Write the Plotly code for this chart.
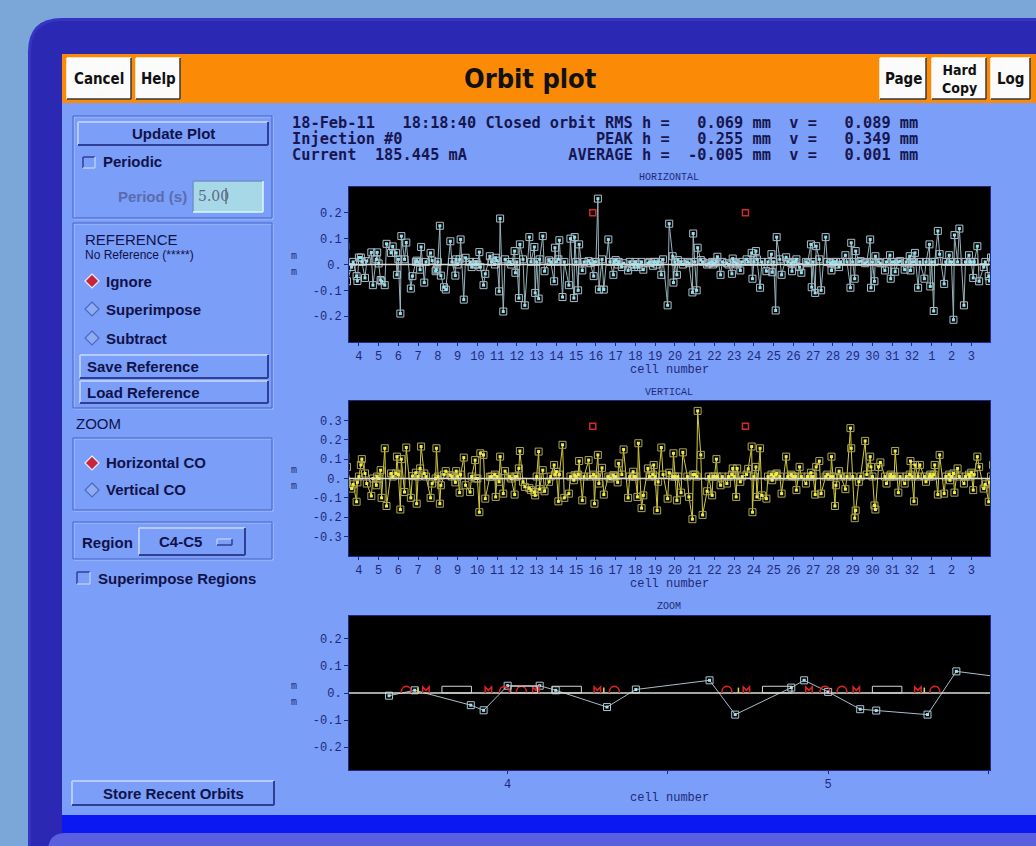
import plotly.graph_objects as go

W, H = 1036, 846

# ---------------- orbit data ----------------
# BPM positions inside one cell (fraction of a cell length)
bpm_offsets = [0.00, 0.10, 0.15, 0.31, 0.40, 0.63, 0.71, 0.885, 0.925]

# Horizontal closed orbit (mm), ring cells 1..32, one row per cell
orbit_h = [
    0.010, -0.180, 0.010, 0.130, 0.040, -0.075, 0.010, 0.036, 0.010,     # 1
    0.010, -0.214, 0.114, 0.010, 0.139, -0.158, 0.010, 0.036, 0.010,     # 2
    0.010, -0.052, 0.010, 0.071, -0.065, -0.010, 0.010, -0.045, -0.064,  # 3
    0.027, 0.027, 0.010, -0.052, 0.013, 0.047, -0.080, 0.020, 0.047,     # 4
    0.004, -0.060, -0.065, -0.080, 0.080, 0.045, 0.070, 0.045, -0.040,   # 5
    0.020, -0.190, 0.110, 0.020, 0.085, -0.093, -0.045, 0.010, 0.015,    # 6
    0.010, -0.020, 0.068, -0.070, 0.010, 0.045, 0.015, -0.026, -0.020,   # 7
    0.010, 0.150, -0.043, -0.088, -0.097, 0.090, 0.010, -0.043, 0.020,   # 8
    0.000, 0.020, 0.097, -0.136, 0.026, 0.010, -0.010, 0.000, 0.010,     # 9
    0.000, 0.048, -0.010, -0.080, -0.036, 0.032, 0.010, 0.000, 0.026,    # 10
    0.015, -0.104, 0.178, -0.182, 0.020, 0.010, 0.000, 0.052, -0.032,    # 11
    0.010, -0.130, 0.078, 0.020, -0.158, 0.106, 0.010, 0.068, -0.110,    # 12
    0.010, -0.132, 0.020, 0.110, -0.026, 0.016, 0.010, -0.065, 0.065,    # 13
    0.010, 0.020, 0.094, -0.126, 0.010, -0.080, 0.100, -0.130, 0.106,    # 14
    0.010, -0.100, 0.078, -0.023, 0.010, 0.013, 0.005, -0.045, 0.010,    # 15
    0.010, 0.255, -0.097, 0.020, -0.097, 0.097, 0.010, -0.040, 0.010,    # 16
    0.017, 0.000, 0.010, -0.010, 0.005, -0.023, 0.010, 0.000, -0.010,    # 17
    0.010, 0.000, -0.010, 0.010, -0.020, 0.005, 0.010, -0.005, 0.010,    # 18
    0.010, 0.000, 0.010, -0.040, 0.020, -0.158, 0.158, 0.032, -0.070,    # 19
    0.010, -0.040, 0.017, 0.010, 0.000, 0.010, 0.005, -0.108, 0.120,     # 20
    0.010, -0.100, 0.065, 0.017, 0.010, 0.000, 0.005, 0.010, 0.000,      # 21
    0.005, 0.010, 0.030, -0.040, 0.010, 0.005, 0.000, -0.036, 0.023,     # 22
    0.010, 0.005, 0.000, -0.023, 0.010, 0.020, 0.010, 0.045, -0.055,     # 23
    0.010, 0.052, 0.020, -0.090, 0.010, -0.026, 0.010, 0.040, -0.030,    # 24
    0.010, -0.178, 0.106, 0.020, -0.040, 0.028, 0.010, 0.005, -0.026,    # 25
    0.010, 0.010, 0.020, -0.010, -0.032, 0.010, 0.005, 0.078, -0.088,    # 26
    0.010, -0.110, 0.071, 0.020, -0.100, 0.106, 0.010, 0.005, -0.023,    # 27
    0.010, 0.000, 0.010, -0.010, 0.010, 0.036, 0.010, -0.090, 0.084,     # 28
    0.010, -0.055, 0.052, 0.010, 0.013, 0.005, 0.010, 0.097, -0.090,     # 29
    0.010, -0.065, 0.032, 0.010, 0.005, -0.023, 0.010, 0.036, -0.055,    # 30
    0.010, 0.010, -0.028, 0.010, 0.013, -0.020, 0.010, 0.032, -0.023,    # 31
    0.010, 0.010, 0.045, -0.090, 0.010, -0.055, 0.010, 0.078, -0.085,    # 32
]

# Vertical closed orbit (mm), ring cells 1..32
orbit_v = [
    0.010, 0.020, 0.070, -0.083, 0.122, -0.078, 0.010, 0.020, -0.009,    # 1
    0.010, 0.026, -0.073, 0.052, 0.010, -0.026, 0.010, 0.020, 0.010,     # 2
    0.030, -0.060, 0.020, 0.113, 0.060, -0.052, -0.030, -0.120, -0.020,  # 3
    0.010, 0.070, 0.100, 0.026, -0.026, -0.090, 0.000, -0.035, 0.010,    # 4
    0.000, 0.043, -0.100, 0.156, -0.142, 0.026, 0.010, 0.026, 0.113,     # 5
    0.020, -0.160, 0.100, -0.070, 0.160, -0.100, 0.012, 0.030, -0.130,   # 6
    0.010, 0.052, 0.165, 0.026, 0.010, -0.100, -0.026, 0.000, 0.156,     # 7
    0.010, -0.130, -0.035, 0.020, 0.038, 0.017, 0.010, -0.020, 0.038,    # 8
    0.010, -0.073, 0.020, 0.108, -0.035, -0.070, 0.010, 0.095, 0.000,    # 9
    0.000, -0.174, 0.130, 0.122, -0.104, 0.009, 0.010, 0.020, -0.095,    # 10
    0.010, -0.017, 0.113, -0.078, 0.038, 0.010, 0.000, -0.083, 0.010,    # 11
    0.010, 0.052, 0.142, -0.017, -0.043, -0.050, -0.060, -0.070, -0.087, # 12
    0.010, 0.139, -0.055, 0.043, -0.066, -0.017, 0.010, 0.070, 0.020,    # 13
    0.035, -0.118, 0.020, 0.174, -0.100, -0.078, 0.010, -0.009, 0.017,   # 14
    0.010, 0.020, 0.090, -0.113, 0.010, 0.095, 0.010, 0.020, -0.130,     # 15
    0.010, 0.122, -0.026, 0.055, -0.083, 0.010, 0.000, 0.017, 0.010,     # 16
    0.010, -0.020, 0.078, 0.020, 0.150, -0.100, 0.010, 0.035, 0.010,     # 17
    0.010, -0.095, 0.182, -0.153, -0.087, 0.052, 0.010, 0.020, 0.070,    # 18
    0.010, -0.165, -0.017, 0.160, 0.020, -0.104, 0.030, 0.010, 0.130,    # 19
    0.010, -0.113, 0.010, -0.073, 0.135, 0.010, -0.095, -0.210, 0.020,   # 20
    0.020, 0.010, 0.349, 0.122, -0.188, -0.066, 0.010, -0.087, 0.010,    # 21
    0.010, 0.100, 0.010, -0.035, 0.010, -0.026, 0.010, 0.020, 0.052,     # 22
    0.010, -0.095, 0.052, -0.017, 0.010, 0.020, 0.050, 0.165, -0.174,    # 23
    0.010, 0.060, -0.095, 0.156, -0.087, -0.104, 0.010, 0.020, -0.009,   # 24
    0.010, 0.020, 0.026, 0.010, -0.078, 0.113, 0.010, 0.020, 0.014,      # 25
    0.010, 0.010, -0.060, 0.060, 0.010, -0.026, 0.010, 0.030, 0.010,     # 26
    0.010, -0.083, 0.060, 0.090, -0.078, 0.010, 0.020, 0.010, 0.113,     # 27
    0.010, -0.142, -0.035, 0.038, 0.010, -0.055, 0.010, 0.260, 0.156,    # 28
    0.010, -0.205, -0.165, -0.017, 0.010, 0.194, 0.020, 0.113, 0.060,    # 29
    0.010, -0.139, -0.160, 0.060, 0.083, 0.010, -0.026, 0.010, 0.020,    # 30
    0.010, 0.010, 0.142, -0.073, 0.010, -0.026, 0.010, 0.020, 0.090,     # 31
    0.010, -0.118, 0.070, 0.010, 0.070, 0.010, -0.017, 0.010, 0.020,     # 32
]

# cell axis: unwrapped positions 4..35 carry ring labels 4..32, 1, 2, 3
cell_ticks = [4, 5, 6, 7, 8, 9, 10, 11, 12, 13, 14, 15, 16, 17, 18, 19, 20,
              21, 22, 23, 24, 25, 26, 27, 28, 29, 30, 31, 32, 33, 34, 35]
cell_labels = ["4", "5", "6", "7", "8", "9", "10", "11", "12", "13", "14",
               "15", "16", "17", "18", "19", "20", "21", "22", "23", "24",
               "25", "26", "27", "28", "29", "30", "31", "32", "1", "2", "3"]

# reference markers (cell position, mm)
ref_cells = [15.84, 23.57]
ref_h = [0.20, 0.20]
ref_v = [0.27, 0.27]

# lattice elements for the zoomed region (fraction of a cell)
sext_offsets = [0.684, 0.990, 0.043, 0.333]
quad_offsets = [0.745, 0.940, 0.088, 0.280]
corr_offsets = [0.720, 0.300]
dipole_spans = [(0.795, 0.887), (0.138, 0.230)]
id_spans = [(4.010, 4.093)]
zoom_cells = [3, 4, 5]

# summary numbers
date_str, time_str = "18-Feb-11", "18:18:40"
injection = 0
beam_current = 185.445
rms_h, rms_v = 0.069, 0.089
peak_h, peak_v = 0.255, 0.349
avg_h, avg_v = -0.005, 0.001

# ---------------- build orbit along the unwrapped ring ----------------
N_RING = 32
PER = len(bpm_offsets)


def unwrap(values, first=3, last=36):
    xs, ys = [], []
    for k in range(first, last + 1):
        ring = (k - 1) % N_RING
        for j, off in enumerate(bpm_offsets):
            xs.append(k + off)
            ys.append(values[ring * PER + j])
    return xs, ys


hx, hy = unwrap(orbit_h)
vx, vy = unwrap(orbit_v)
ZOOM_RANGE = [3.505, 5.505]
zx = [x for x in hx if 3.55 <= x <= 5.7]
zy = [y for x, y in zip(hx, hy) if 3.55 <= x <= 5.7]

# ---------------- styling ----------------
SANS = "Liberation Sans, Arial, sans-serif"
NARROW = "Liberation Sans Narrow, Arial Narrow, DejaVu Sans Condensed, Liberation Sans, sans-serif"
MONO = "DejaVu Sans Mono, monospace"
PMONO = "Liberation Mono, Courier New, monospace"
INK = "#10124a"
AXC = "#1c2a80"
PANEL = "#7b9ef8"
HI = "#b6caff"
LO = "#2f3f94"

shapes, notes = [], []


def X(px):
    return px / W


def Y(py):
    return 1 - py / H


def rect(x0, y0, x1, y1, fill=None, line=None, lw=1):
    shapes.append(dict(type="rect", xref="paper", yref="paper",
                       x0=X(x0), x1=X(x1), y0=Y(y1), y1=Y(y0),
                       fillcolor=fill or "rgba(0,0,0,0)",
                       line=dict(color=line or "rgba(0,0,0,0)", width=lw if line else 0),
                       layer="below"))


def seg(x0, y0, x1, y1, color, lw=1):
    shapes.append(dict(type="line", xref="paper", yref="paper",
                       x0=X(x0), y0=Y(y0), x1=X(x1), y1=Y(y1),
                       line=dict(color=color, width=lw), layer="below"))


def bevel(x0, y0, x1, y1, fill, hi=HI, lo=LO, lw=2):
    rect(x0, y0, x1, y1, fill)
    seg(x0, y0, x1, y0, hi, lw)
    seg(x0, y0, x0, y1, hi, lw)
    seg(x0, y1, x1, y1, lo, lw)
    seg(x1, y0, x1, y1, lo, lw)


def frame(x0, y0, x1, y1):
    rect(x0 + 1, y0 + 1, x1 + 1, y1 + 1, None, "#a9c0ff", 1)
    rect(x0, y0, x1, y1, None, "#4763c8", 1)


def rounded_tl(x0, y0, x1, y1, r, fill):
    rx, ry = r / W, r / H
    a, b, c, d = X(x0), Y(y0), X(x1), Y(y1)
    p = f"M {a},{b - ry} Q {a},{b} {a + rx},{b} L {c},{b} L {c},{d} L {a},{d} Z"
    shapes.append(dict(type="path", xref="paper", yref="paper", path=p,
                       fillcolor=fill, line=dict(width=0), layer="below"))


def diamond(cx, cy, r, selected):
    p = (f"M {X(cx)},{Y(cy - r)} L {X(cx + r)},{Y(cy)} "
         f"L {X(cx)},{Y(cy + r)} L {X(cx - r)},{Y(cy)} Z")
    shapes.append(dict(type="path", xref="paper", yref="paper", path=p,
                       fillcolor="#c8243a" if selected else "#8fabf2",
                       line=dict(color="#e8ecff" if selected else "#4b66c4", width=1.2),
                       layer="below"))


def txt(x, y, s, size=15, color=INK, family=SANS, anchor="left", bold=False):
    notes.append(dict(xref="paper", yref="paper", x=X(x), y=Y(y),
                      text=f"<b>{s}</b>" if bold else s, showarrow=False,
                      xanchor=anchor, yanchor="middle",
                      font=dict(family=family, size=size, color=color)))


# ---------------- window chrome ----------------
rounded_tl(28, 18, 1060, 870, 34, "#3634c4")
rounded_tl(31, 21, 1060, 870, 31, "#2b29b3")
rect(62, 54, 1036, 103, "#fb8a06")
rect(62, 103, 1036, 815, PANEL)
rect(62, 815, 1036, 833, "#0c18f2")
rounded_tl(48, 833, 1060, 870, 18, "#5a5fe0")

# title bar buttons
for (x0, x1, label) in [(67, 131, "Cancel"), (136, 180, "Help"), (880, 926, "Page"),
                        (932, 986, "Hard<br>Copy"), (991, 1030, "Log")]:
    bevel(x0, 58, x1, 99, "#fbfbfb", "#ffffff", "#3a3a3a", 1.5)
    txt((x0 + x1) / 2, 79, label, 15 if "<br>" not in label else 14, "#111111",
        NARROW, "center", True)
txt(530, 78, "Orbit plot", 27, "#111111", NARROW, "center", True)

# ---------------- left control panel ----------------
frame(73, 116, 272, 218)
bevel(78, 122, 268, 145, PANEL)
txt(173, 133, "Update Plot", 15, INK, SANS, "center", True)
bevel(83, 157, 95, 168, "#7b9ef8", LO, HI, 1.5)
txt(101, 162, "Periodic", 15, INK, SANS, "left", True)
txt(189, 196, "Period (s)", 15, "#5a6cb0", SANS, "right", True)
bevel(193, 181, 263, 212, "#a6d8e8", "#6f8fc8", "#dff4fb", 1.5)
txt(196, 196, "5.00", 14, "#606880", "DejaVu Serif, serif", "left")
seg(226, 188, 226, 204, "#404040", 1)

frame(73, 223, 272, 408)
txt(83, 239, "REFERENCE", 15, INK, SANS)
txt(83, 255, "No Reference (*****)", 12, INK, SANS)
for cy, lab, sel in [(281, "Ignore", True), (309, "Superimpose", False), (338, "Subtract", False)]:
    diamond(92, cy, 7, sel)
    txt(104, cy, lab, 15, INK, SANS, "left", True)
bevel(80, 355, 268, 378, PANEL)
txt(85, 366, "Save Reference", 15, INK, SANS, "left", True)
bevel(80, 381, 268, 403, PANEL)
txt(85, 392, "Load Reference", 15, INK, SANS, "left", True)

txt(74, 423, "ZOOM", 15, INK, SANS)
frame(73, 438, 272, 510)
for cy, lab, sel in [(463, "Horizontal CO", True), (490, "Vertical CO", False)]:
    diamond(92, cy, 7, sel)
    txt(104, cy, lab, 15, INK, SANS, "left", True)

frame(73, 522, 272, 559)
txt(80, 542, "Region", 15, INK, SANS, "left", True)
bevel(139, 528, 245, 555, PANEL)
txt(180, 541, "C4-C5", 15, INK, SANS, "center", True)
bevel(217, 539, 232, 545, PANEL, HI, LO, 1.5)
bevel(77, 572, 90, 584, PANEL, LO, HI, 1.5)
txt(96, 578, "Superimpose Regions", 15, INK, SANS, "left", True)

bevel(72, 781, 274, 805, PANEL)
txt(173, 793, "Store Recent Orbits", 15, INK, SANS, "center", True)

# ---------------- header summary ----------------
NB = "\u00a0"
line1 = (f"{date_str}   {time_str} Closed orbit RMS h =   {rms_h:.3f} mm  v =   {rms_v:.3f} mm")
line2 = (f"Injection #{injection}" + " " * 21 + f"PEAK h =   {peak_h:.3f} mm  v =   {peak_v:.3f} mm")
line3 = (f"Current  {beam_current:.3f} mA" + " " * 11 +
         f"AVERAGE h =  {avg_h:.3f} mm  v =   {avg_v:.3f} mm")
for yy, s in [(123, line1), (139, line2), (155, line3)]:
    txt(290, yy, s.replace(" ", NB), 15.3, "#161650", MONO, "left", True)

# ---------------- plot panels ----------------
XDOM = [X(349), X(990)]
DOM_H = [Y(342), Y(187)]
DOM_V = [Y(556), Y(401)]
DOM_Z = [Y(770), Y(616)]

tickfont = dict(family=PMONO, size=12, color="#1e2a78")


def xax(dom_anchor, rng, tv, tt):
    return dict(domain=XDOM, anchor=dom_anchor, range=rng, tickmode="array",
                tickvals=tv, ticktext=tt, ticks="outside", ticklen=3,
                tickcolor=AXC, showline=True, linecolor=AXC, mirror=True,
                showgrid=False, zeroline=False, tickfont=tickfont, fixedrange=True)


def yax(dom, anchor, rng, tv):
    return dict(domain=dom, anchor=anchor, range=rng, tickmode="array",
                tickvals=tv, ticktext=[f"{v:.1f}" if v != 0 else "0." for v in tv],
                ticks="outside", ticklen=4, tickcolor=AXC, showline=True,
                linecolor=AXC, mirror=True, showgrid=False, zeroline=False,
                tickfont=tickfont, fixedrange=True)


for xr, yr in [("x", "y"), ("x2", "y2"), ("x3", "y3")]:
    shapes.append(dict(type="rect", xref=f"{xr} domain", yref=f"{yr} domain",
                       x0=0, x1=1, y0=0, y1=1, fillcolor="black",
                       line=dict(width=0), layer="below"))
    shapes.append(dict(type="line", xref=f"{xr} domain", yref=yr,
                       x0=0, x1=1, y0=0, y1=0,
                       line=dict(color="#dcdcd4", width=1.6), layer="above"))

# lattice schematic in the zoom panel
EH = 0.025
RED = "#e02424"
for c in zoom_cells:
    for a, b in dipole_spans:
        if c + a > 3.52 and c + b < 5.5:
            shapes.append(dict(type="rect", xref="x3", yref="y3", x0=c + a, x1=c + b,
                               y0=0, y1=EH, line=dict(color="#d4d4d4", width=1),
                               fillcolor="rgba(0,0,0,0)", layer="above"))
    for off in sext_offsets:
        x0 = c + off - 0.016
        x1 = c + off + 0.016
        if 3.52 < x0 and x1 < 5.5:
            shapes.append(dict(type="path", xref="x3", yref="y3",
                               path=f"M {x0},0 C {x0},{EH * 1.35} {x1},{EH * 1.35} {x1},0",
                               line=dict(color=RED, width=1.5), layer="above"))
    for off in quad_offsets:
        x0 = c + off - 0.010
        x1 = c + off + 0.010
        if 3.52 < x0 and x1 < 5.5:
            xm = c + off
            shapes.append(dict(type="path", xref="x3", yref="y3",
                               path=(f"M {x0},0 L {x0},{EH * 0.9} L {xm},{EH * 0.4} "
                                     f"L {x1},{EH * 0.9} L {x1},0"),
                               line=dict(color=RED, width=1.5), layer="above"))
    for off in corr_offsets:
        xc = c + off
        if 3.52 < xc < 5.5:
            shapes.append(dict(type="line", xref="x3", yref="y3", x0=xc, x1=xc,
                               y0=0, y1=EH * 0.8, line=dict(color="#d8d860", width=1.5),
                               layer="above"))
for a, b in id_spans:
    shapes.append(dict(type="rect", xref="x3", yref="y3", x0=a, x1=b, y0=0, y1=EH,
                       line=dict(color="#d4d4d4", width=1), fillcolor="rgba(0,0,0,0)",
                       layer="above"))

# panel titles and axis captions
for yy, s in [(178, "HORIZONTAL"), (392, "VERTICAL"), (606, "ZOOM")]:
    txt(669, yy, s, 10, "#1e2a78", PMONO, "center")
for yy in [370, 584, 798]:
    txt(669, yy, "cell number", 12, "#1e2a78", PMONO, "center")
for y0 in [256, 470, 686]:
    txt(294, y0, "m", 10, "#1e2a78", PMONO, "center")
    txt(294, y0 + 16, "m", 10, "#1e2a78", PMONO, "center")


def orbit_traces(xs, ys, xa, ya, line_col, box_col, dot_col):
    return [
        go.Scatter(x=xs, y=ys, xaxis=xa, yaxis=ya, mode="lines+markers",
                   line=dict(color=line_col, width=1),
                   marker=dict(symbol="square-open", size=7, color=box_col,
                               line=dict(width=1)), hoverinfo="skip"),
        go.Scatter(x=xs, y=ys, xaxis=xa, yaxis=ya, mode="markers",
                   marker=dict(symbol="square", size=3, color=dot_col),
                   hoverinfo="skip"),
    ]


fig = go.Figure()
fig.add_traces(orbit_traces(hx, hy, "x", "y", "#98b4bc", "#aebcc6", "#8ee4f0"))
fig.add_trace(go.Scatter(x=ref_cells, y=ref_h, xaxis="x", yaxis="y", mode="markers",
                         marker=dict(symbol="square-open", size=6, color="#d02a2a",
                                     line=dict(width=1.5)), hoverinfo="skip"))
fig.add_traces(orbit_traces(vx, vy, "x2", "y2", "#d2ca3a", "#aaa45e", "#f2ee3c"))
fig.add_trace(go.Scatter(x=ref_cells, y=ref_v, xaxis="x2", yaxis="y2", mode="markers",
                         marker=dict(symbol="square-open", size=6, color="#d02a2a",
                                     line=dict(width=1.5)), hoverinfo="skip"))
fig.add_traces(orbit_traces(zx, zy, "x3", "y3", "#a8bec8", "#b0c4d0", "#9ee4f0"))

fig.update_layout(
    width=W, height=H, margin=dict(l=0, r=0, t=0, b=0),
    paper_bgcolor="#7aa6d8", plot_bgcolor="black", showlegend=False,
    xaxis=xax("y", [3.5, 35.95], cell_ticks, cell_labels),
    yaxis=yax(DOM_H, "x", [-0.3, 0.3], [-0.2, -0.1, 0, 0.1, 0.2]),
    xaxis2=xax("y2", [3.5, 35.95], cell_ticks, cell_labels),
    yaxis2=yax(DOM_V, "x2", [-0.4, 0.4], [-0.3, -0.2, -0.1, 0, 0.1, 0.2, 0.3]),
    xaxis3=xax("y3", ZOOM_RANGE, [4, 4.5, 5, 5.5], ["4", "", "5", ""]),
    yaxis3=yax(DOM_Z, "x3", [-0.285, 0.285], [-0.2, -0.1, 0, 0.1, 0.2]),
    shapes=shapes, annotations=notes,
)

fig.write_html("out.html")
